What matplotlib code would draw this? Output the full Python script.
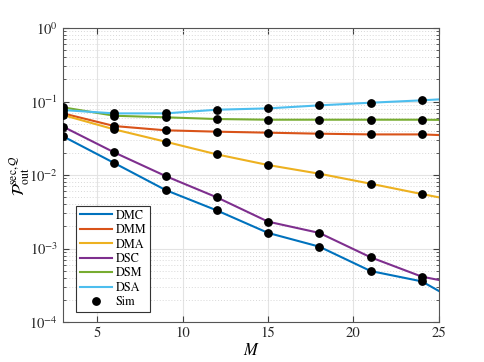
import matplotlib
matplotlib.use("Agg")
import matplotlib.pyplot as plt
import numpy as np
from matplotlib.ticker import LogLocator, NullFormatter

plt.rcParams['mathtext.fontset'] = 'stix'
plt.rcParams['font.family'] = ['STIXGeneral', 'Liberation Serif', 'DejaVu Serif']

M_line = [3, 6, 9, 12, 15, 18, 21, 24, 25]
M_sim = [3, 6, 9, 12, 15, 18, 21, 24]

DMC = [0.0336, 0.01455, 0.00625, 0.0033, 0.00163, 0.00106, 0.000494, 0.000357, 0.000264]
DMM = [0.069, 0.0464, 0.0406, 0.0389, 0.0377, 0.0365, 0.0357, 0.0357, 0.0350]
DMA = [0.0655, 0.0418, 0.0284, 0.0191, 0.01368, 0.01042, 0.00762, 0.00551, 0.00497]
DSC = [0.0455, 0.0203, 0.00969, 0.00497, 0.00232, 0.00163, 0.00076, 0.000414, 0.000373]
DSM = [0.0834, 0.0641, 0.0610, 0.0578, 0.0566, 0.0566, 0.0566, 0.0566, 0.0563]
DSA = [0.0766, 0.069, 0.069, 0.0774, 0.0807, 0.0887, 0.0964, 0.1038, 0.107]

names = ['DMC', 'DMM', 'DMA', 'DSC', 'DSM', 'DSA']
series = [DMC, DMM, DMA, DSC, DSM, DSA]
colors = ['#0072BD', '#D95319', '#EDB120', '#7E2F8E', '#77AC30', '#4DBEEE']

fig = plt.figure(figsize=(4.85, 3.62), dpi=100)
ax = fig.add_axes([0.130, 0.1105, 0.775, 0.812])

for name, s, c in zip(names, series, colors):
    ax.plot(M_line, s, color=c, lw=1.5, label=name)
first = True
for s in series:
    ax.plot(M_sim, s[:len(M_sim)], 'o', color='black', ms=5.3,
            label='Sim' if first else None, zorder=5)
    first = False

ax.set_yscale('log')
ax.set_xlim(3, 25)
ax.set_ylim(1e-4, 1)
ax.set_xticks([5, 10, 15, 20, 25])
ax.yaxis.set_major_locator(LogLocator(base=10, numticks=10))
ax.yaxis.set_minor_locator(LogLocator(base=10, subs=np.arange(2, 10), numticks=10))
ax.yaxis.set_minor_formatter(NullFormatter())
ax.grid(True, which='major', color='#e3e3e3', lw=0.8, ls='-')
ax.grid(True, which='minor', axis='y', color='#d8d8d8', lw=0.7, ls=(0, (1, 2)))
ax.set_axisbelow(True)
ax.tick_params(which='both', direction='in', top=True, right=True, labelsize=10.5, colors='#404040')
ax.tick_params(which='major', length=4)
ax.tick_params(which='minor', length=2)
for sp in ax.spines.values():
    sp.set_color('#555555')
    sp.set_linewidth(0.8)
for lab in ax.get_xticklabels() + ax.get_yticklabels():
    lab.set_color('#262626')

ax.set_xlabel('$M$', fontsize=12, labelpad=2)
ax.set_ylabel(r'$\mathcal{P}_{\mathrm{out}}^{\mathrm{sec},\mathcal{Q}}$', fontsize=12, labelpad=-2)

leg = ax.legend(loc='lower left', bbox_to_anchor=(0.035, 0.034), fontsize=8.8,
                frameon=True, fancybox=False, edgecolor='#333333', framealpha=1,
                handlelength=2.6, labelspacing=0.22, borderpad=0.3, handletextpad=0.35,
                borderaxespad=0)
leg.get_frame().set_linewidth(0.8)

fig.savefig('out.png', dpi=100)
